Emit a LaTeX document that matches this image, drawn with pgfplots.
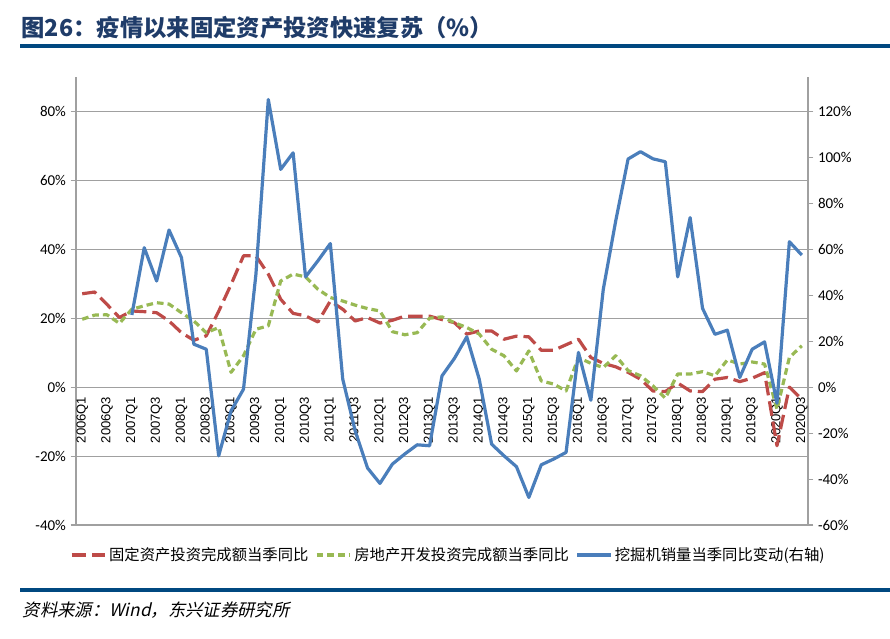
\documentclass[border=0pt]{standalone}
\usepackage{fontspec}
\usepackage{pgfplots}
\usepackage{pgfplotstable}
\pgfplotsset{compat=1.18}
\setmainfont{Liberation Sans}
\newfontfamily\cjk{Noto Sans CJK SC}
\newfontfamily\cjksrc[FakeSlant=0.22]{Noto Sans CJK SC}
\newfontfamily\tickfont{Carlito}

\definecolor{fixedred}{RGB}{190,75,72}
\definecolor{estgreen}{RGB}{152,185,84}
\definecolor{excblue}{RGB}{74,126,187}
\definecolor{navy}{RGB}{0,72,128}
\definecolor{titleblue}{RGB}{31,60,105}
\definecolor{gridgray}{RGB}{160,160,160}

% tick labels sit below the curves
\pgfplotsset{
  layers/labelsbelow/.define layer set={
    axis background,axis grid,axis ticks,axis lines,axis tick labels,
    main,axis descriptions,axis foreground}{
    grid style={/pgfplots/on layer=axis grid},
    tick style={/pgfplots/on layer=axis ticks},
    axis line style={/pgfplots/on layer=axis lines},
    label style={/pgfplots/on layer=axis descriptions},
    legend style={/pgfplots/on layer=axis descriptions},
    title style={/pgfplots/on layer=axis descriptions},
    ticklabel style={/pgfplots/on layer=axis tick labels},
    axis background@ style={/pgfplots/on layer=axis background},
  },
}

% q: quarter index from 2006Q1; fai: fixed-asset investment yoy (%);
% rei: real-estate investment yoy (%); exc: excavator sales yoy (%, right axis)
\pgfplotstableread{
q fai rei exc
0 27.1 19.7 nan
1 27.6 20.9 nan
2 24.0 21.0 nan
3 20.2 18.5 nan
4 22.1 22.6 31.4
5 21.9 23.6 60.7
6 21.6 24.5 46.2
7 19.2 24.1 68.4
8 15.8 21.6 56.4
9 13.6 19.2 18.7
10 14.9 15.8 16.5
11 22.0 17.3 -29.9
12 29.8 4.3 -10.3
13 38.1 9.1 -0.9
14 38.1 16.8 49.0
15 32.8 17.8 125.2
16 25.5 30.8 94.8
17 21.4 32.8 102.0
18 20.7 32.0 48.0
19 18.9 28.4 55.0
20 25.0 26.0 62.5
21 22.6 25.0 3.5
22 19.2 23.8 -19.0
23 20.2 22.8 -35.2
24 18.6 22.1 -41.9
25 19.4 16.1 -33.5
26 20.6 15.2 -29.1
27 20.6 15.8 -25.1
28 20.6 20.0 -25.5
29 19.6 20.4 4.9
30 18.7 18.7 12.5
31 15.4 17.3 21.9
32 16.3 15.4 3.5
33 16.3 11.0 -24.8
34 13.9 9.1 -29.9
35 14.8 4.7 -34.6
36 14.6 10.5 -48.0
37 10.7 1.8 -33.8
38 10.7 0.9 -31.3
39 12.3 -1.1 -28.4
40 13.9 8.6 15.1
41 8.6 6.9 -5.7
42 6.9 5.7 42.6
43 5.9 9.1 72.3
44 4.3 4.8 99.3
45 2.3 3.3 102.5
46 -1.1 0.4 99.4
47 -1.3 -3.2 98.1
48 1.2 3.8 48.0
49 -1.1 3.8 73.8
50 -1.3 4.5 34.3
51 2.3 3.3 23.0
52 2.8 7.9 24.8
53 1.6 6.7 4.2
54 2.6 7.3 16.5
55 4.2 6.7 19.7
56 -17.0 -6.4 -7.0
57 0.0 8.6 63.3
58 -3.5 12.0 57.5
}\datatable

\begin{document}
\begin{tikzpicture}
% page frame
\path (0,0) rectangle (667.5pt,479.25pt);

% title and rules
\node[anchor=west, inner sep=0pt, text=titleblue,
      font=\cjk\bfseries\fontsize{17.5}{20}\selectfont]
  at (16pt,458.5pt) {图26：疫情以来固定资产投资快速复苏（\%）};
\fill[navy] (15pt,443.25pt) rectangle (667.5pt,446.25pt);
\fill[navy] (15pt,35.25pt) rectangle (667.5pt,38.25pt);
\node[anchor=west, inner sep=0pt, font=\cjksrc\fontsize{13}{15}\selectfont]
  at (17pt,21.75pt) {资料来源：Wind，东兴证券研究所};

% left axis: investment growth
\begin{axis}[
  set layers=labelsbelow,
  at={(57pt,85.5pt)}, anchor=south west,
  scale only axis, width=549pt, height=336pt,
  xmin=-0.5, xmax=58.5, ymin=-40, ymax=90,
  axis x line*=middle, axis y line*=left,
  x axis line style={draw=none},
  y axis line style={draw=gridgray, line width=0.8pt, -},
  hide obscured x ticks=false, hide obscured y ticks=false,
  xtick={0,2,...,58},
  xticklabels={2006Q1,2006Q3,2007Q1,2007Q3,2008Q1,2008Q3,2009Q1,2009Q3,
    2010Q1,2010Q3,2011Q1,2011Q3,2012Q1,2012Q3,2013Q1,2013Q3,2014Q1,2014Q3,
    2015Q1,2015Q3,2016Q1,2016Q3,2017Q1,2017Q3,2018Q1,2018Q3,2019Q1,2019Q3,
    2020Q1,2020Q3},
  xtick style={draw=none},
  xticklabel style={rotate=90, anchor=east, inner sep=0pt,
    font=\fontsize{9.8}{10}\selectfont},
  xticklabel shift=3pt,
  ytick={-40,-20,...,80},
  yticklabels={-40\%,-20\%,0\%,20\%,40\%,60\%,80\%},
  ytick style={draw=gridgray, line width=0.8pt},
  tick align=outside, major tick length=4pt,
  yticklabel style={font=\tickfont\fontsize{11.25}{12}\selectfont},
  ymajorgrids, grid style={gridgray, line width=0.8pt},
  legend columns=3,
  legend style={at={(0.509,-0.067)}, anchor=center, draw=none, fill=none,
    font=\cjk\fontsize{11.5}{13}\selectfont,
    /tikz/every even column/.append style={column sep=3pt}},
  legend image code/.code={\draw[#1] (0pt,0pt) -- (25pt,0pt);},
]
\addplot[fixedred, line width=2.4pt, line join=round,
         dash pattern=on 11pt off 4.5pt]
  table[x=q, y=fai] {\datatable};
\addlegendentry{固定资产投资完成额当季同比}
\addplot[estgreen, line width=2.4pt, line join=round,
         dash pattern=on 5pt off 3pt]
  table[x=q, y=rei] {\datatable};
\addlegendentry{房地产开发投资完成额当季同比}
\addlegendimage{excblue, line width=2.4pt}
\addlegendentry{挖掘机销量当季同比变动(右轴)}
\end{axis}

% right axis: excavator sales
\begin{axis}[
  set layers=labelsbelow,
  at={(57pt,85.5pt)}, anchor=south west,
  scale only axis, width=549pt, height=336pt,
  xmin=-0.5, xmax=58.5, ymin=-60, ymax=135,
  axis x line=none, axis y line*=right,
  y axis line style={draw=gridgray, line width=0.8pt, -},
  ytick={-60,-40,...,120},
  yticklabels={-60\%,-40\%,-20\%,0\%,20\%,40\%,60\%,80\%,100\%,120\%},
  ytick style={draw=gridgray, line width=0.8pt},
  tick align=outside, major tick length=4pt,
  yticklabel style={font=\tickfont\fontsize{11.25}{12}\selectfont},
]
\addplot[excblue, line width=2.4pt, line join=round]
  table[x=q, y=exc] {\datatable};
\end{axis}
\end{tikzpicture}
\end{document}
